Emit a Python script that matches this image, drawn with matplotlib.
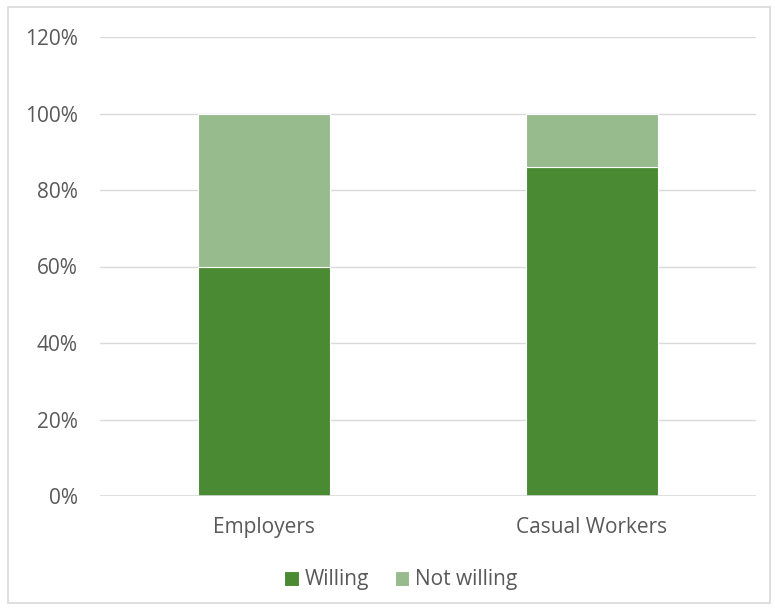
import matplotlib
matplotlib.use("Agg")
import matplotlib.pyplot as plt
from matplotlib.patches import Rectangle

categories = ["Employers", "Casual Workers"]
willing = [60, 86]
not_willing = [40, 14]
yticks = [0, 20, 40, 60, 80, 100, 120]

plt.rcParams['font.family'] = ['Open Sans', 'DejaVu Sans']
txt = '#595959'
fs = 15

fig = plt.figure(figsize=(7.75, 6.13), dpi=100)
ax = fig.add_axes([100/775, 1-496/613, 656/775, 459/613])

x = list(range(len(categories)))
b1 = ax.bar(x, willing, width=0.4, color='#4a8a32', edgecolor='white', linewidth=0.8, label='Willing', zorder=3)
b2 = ax.bar(x, not_willing, bottom=willing, width=0.4, color='#97bb8d', edgecolor='white', linewidth=0.8, label='Not willing', zorder=3)

ax.set_xlim(-0.5, 1.5)
ax.set_ylim(0, 120)
ax.set_yticks(yticks)
ax.set_yticklabels([f"{v}%" for v in yticks], color=txt, fontsize=fs)
ax.set_xticks(x)
ax.set_xticklabels(categories, color=txt, fontsize=fs)
ax.tick_params(axis='both', length=0)
ax.tick_params(axis='y', pad=16)
ax.tick_params(axis='x', pad=15)
ax.grid(axis='y', color='#d9d9d9', linewidth=1, zorder=0)
for s in ax.spines.values():
    s.set_visible(False)
ax.axhline(0, color='#d9d9d9', linewidth=1.2, zorder=4)

leg = fig.legend(handles=[b1, b2], labels=['Willing', 'Not willing'], loc='center',
                 bbox_to_anchor=(401/775, 1-580/613), ncol=2, frameon=False,
                 fontsize=fs, handlelength=0.7, handleheight=0.7, handletextpad=0.3,
                 columnspacing=1.2)
for t in leg.get_texts():
    t.set_color(txt)

fig.patches.append(Rectangle((8/775, 1-603/613), 762/775, 596/613, transform=fig.transFigure,
                             fill=False, edgecolor='#d9d9d9', linewidth=1.2))

fig.savefig("out.png", dpi=100)
